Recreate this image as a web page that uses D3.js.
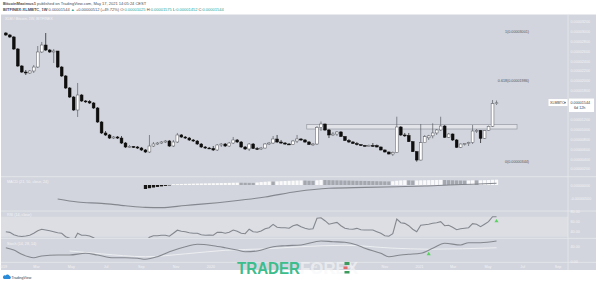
<!DOCTYPE html>
<html>
<head>
<meta charset="utf-8">
<script src="https://cdn.jsdelivr.net/npm/d3@7"></script>
<style>
  html, body { margin: 0; padding: 0; background: #fff; }
  svg { display: block; font-family: "Liberation Sans", Arial, sans-serif; }
</style>
</head>
<body>
<svg id="chart" width="600" height="284"></svg>
<script>
// XLM/BTC weekly, Bitfinex. Prices in satoshi (1e-8 BTC)
const firstWeek = "2019-01-07";
const lastWeek = "2021-05-17";

const opens = [2969,2929,2888,2643,2296,2173,2153,2194,2275,2582, 2724,2622,2582,2602,2275,2092,1847,1663,1398,1704,
  1582,1572,1541,1439,1153,929,888,826,847,826, 724,643,653,643,622,582,541,663,704,724,
  745,765,663,745,888,847,826,786,765,704, 643,622,612,582,684,704,663,724,786,745,
  643,602,704,612,602,622,704,724,806,745, 724,704,694,765,806,786,745,694,704,1041,
  1112,990,888,908,949,857,776,745,714,690, 674,668,674,672,643,582,541,500,530,1051,
  888,878,751,547,377,730,830,870,929,990, 1071,841,908,786,637,704,714,735,969,980,
  820,980,1065,1530];
const highs = [2990,2949,2908,2663,2316,2214,2214,2316,2704,2786, 2969,2643,2643,2602,2296,2112,1867,1684,1949,1725,
  1602,1602,1561,1459,1173,969,908,867,867,867, 745,684,663,663,643,602,888,745,745,765,
  786,786,786,929,908,867,847,806,786,724, 663,643,663,704,724,724,745,847,806,765,
  663,724,724,643,643,724,745,867,888,786, 745,724,786,888,826,806,765,724,1071,1163,
  1122,1010,949,969,969,867,806,765,745,704, 684,694,724,694,653,592,551,551,1261,1071,
  929,929,765,561,1112,888,890,1126,1010,1261, 1092,929,920,806,714,724,751,1092,1010,990,
  990,1081,1602,1592];
const lows = [2908,2867,2622,2275,2153,2112,2133,2153,2255,2561, 2602,2561,2357,2255,2071,1826,1643,1378,1255,1561,
  1541,1520,1418,1133,908,867,806,806,806,704, 622,622,622,602,561,520,520,643,684,704,
  724,643,643,724,826,806,765,745,684,622, 602,602,561,561,643,643,643,704,724,622,
  582,561,602,582,582,612,684,704,724,704, 684,684,684,724,765,724,684,663,684,969,
  969,826,867,867,847,765,724,704,674,663, 653,653,643,633,571,530,490,459,520,867,
  847,745,541,344,367,724,786,820,888,969, 826,826,765,622,622,673,663,704,929,724,
  806,969,1051,1500];
const closes = [2929,2888,2643,2296,2173,2153,2194,2275,2582,2724, 2622,2582,2602,2275,2092,1847,1663,1398,1704,1582,
  1572,1541,1439,1153,929,888,826,847,826,724, 643,653,643,622,582,541,663,704,724,745,
  765,663,745,888,847,826,786,765,704,643, 622,612,582,684,704,663,724,786,745,643,
  602,704,612,602,622,704,724,806,745,724, 704,694,765,806,786,745,694,704,1041,1112,
  990,888,908,949,857,776,745,714,690,674, 668,674,672,643,582,541,500,530,1051,888,
  878,751,547,377,730,853,870,929,990,1071, 841,908,786,637,704,714,735,969,980,820,
  980,1065,1530,1544];

// price axis ticks and fib levels (satoshi)
const priceTicks = d3.range(200, 3201, 200);
const fibLevels = [["1", 3001], ["0.618", 1986], ["0", 344]];
const zoneDates = ["2020-06-18", "2021-06-22"];
const zonePrices = [1102, 1010];

// MACD (21, 50, close, 24): line read at some weeks, histogram from week 35
const macdLine = [[13,-526],[18,-640],[24,-690],[30,-780],[35,-840],[39,-850],[45,-770],[49,-720],
  [57,-600],[65,-450],[73,-245],[81,-125],[90,-90],[98,-64],[105,-40],[111,0],[117,30],[123,64]];
const histStart = 35;
const macdHist = [-150,-120,-95,-72,-52,-34,-16,
  30,35,39,43,47,51,55,58,61,64,67,70,73,76,80,84,88,
  85,82,80,78, 95,110,122,132, 128, 136,144,150,156,162,168,172, 166,160,156, 175,190,
  186,182,178,175,172,168,165,162,158,155,152,149,146,143,140,137,134,
  140,160,172,180, 174,166, 170,175,179,183,186,189,192, 187,182,177,172,168,164,
  170,176, 172, 178,183,188,195,200];

// RSI (14), one per week
const rsi = [40,38.7,34,31.4,30.5,31.4,33,36.8,42,44.8, 43.4,42,40,38,36.8,30,27,22,37,33,
  32.8,31.4,28,22,16,15,14,16,16,14, 13,15,16,16,14,20,29,32,32,33,
  33,31,37,43,41,40,38,37,36.8,34, 33,33.4,33,38.7,39,37,39,43.4,41,37,
  36,45,40,39,41.4,46,48,54.7,49,48, 48,47,52,54,50,47,45,46,67,68,
  62,55,57,58.7,52,47,45.3,45,46.7,44, 43.4,43.5,43.4,40,36.8,32,31,36,65.4,58,
  56.7,52,45,40,53,54,55,57,58,60, 52,53,49,44,46,47,48,56,55,50,
  55,60,70,70];

// Stoch (14, 28, 14): K and D read at some weeks
const stochK = [[0,37.2],[2,30.8],[4,18.7],[7,9.2],[9,14],[13,16.8],[16,16.8],[20,21.5],[23,16.8],[27,9.2],
  [30,9.2],[33,7.6],[35,4.8],[38,12],[41,26],[45,40],[48,46.7],[52,42.8],[55,37.2],[58,30.8],
  [60,26],[63,28],[67,40],[70,42.8],[74,44.8],[79,56],[82,54],[85,52.3],[88,44.8],[90,35.5],
  [94,21.5],[96,12],[99,16.8],[101,18.7],[104,21.5],[107,35.5],[110,49.5],[114,44.8],[116,51.2],
  [119,51.2],[123,56]];
const stochD = [[16,28],[24,20],[35,12],[45,20],[55,30],[65,34],[74,40],[85,44],[97,36],[106,33],[123,37]];
const rsiMarks = [[123, 61]];
const stochMarks = [[106, 19.5]];

// x axis ticks (Mar and May 2020 sit under the watermark)
const tickDates = ["2019-01-01","2019-03-01","2019-05-01","2019-07-01","2019-09-01","2019-11-01",
  "2020-01-01","2020-07-01","2020-09-01","2020-11-01",
  "2021-01-01","2021-03-01","2021-05-01","2021-07-01","2021-09-01"];

const parse = d3.timeParse("%Y-%m-%d");
const weeks = d3.timeMonday.range(parse(firstWeek), d3.timeDay.offset(parse(lastWeek), 1));
const candles = weeks.map((d, i) => ({date: d, o: opens[i], h: highs[i], l: lows[i], c: closes[i]}));

const svg = d3.select("#chart");
const bg = "#d2d5dd";
const axisText = "#f3f4f7";
const lineCol = "#84878e";
const plotRight = 568;

const x = d3.scaleTime()
    .domain([parse("2019-01-01"), parse("2021-09-01")])
    .range([2.4, 557.5]);
const y = d3.scaleLinear().domain([3200, 200]).range([21.7, 168.7]);
const yMacd = d3.scaleLinear().domain([0, -500]).range([185, 198.3]);
const yRsi = d3.scaleLinear().domain([80, 40]).range([211.7, 231.7]);
const yStoch = d3.scaleLinear().domain([40, 0]).range([246.7, 261]);

// background
svg.append("rect").attr("width", 600).attr("height", 284).attr("fill", "#fff");
svg.append("rect").attr("x", 1).attr("y", 14.5).attr("width", 595).attr("height", 255.5).attr("fill", bg);

// clip paths per pane
const defs = svg.append("defs");
const panes = {main: [14.5, 176.5], macd: [177, 210.5], rsi: [211.5, 238], stoch: [238.5, 262]};
Object.entries(panes).forEach(([k, [t, b]]) => {
    defs.append("clipPath").attr("id", "clip-" + k)
      .append("rect").attr("x", 1).attr("y", t).attr("width", plotRight - 1).attr("height", b - t);
});

// RSI band
svg.append("rect")
    .attr("x", 1).attr("y", yRsi(70))
    .attr("width", plotRight - 1).attr("height", yRsi(30) - yRsi(70))
    .attr("fill", "#dcdee4");

// separators
[176.7, 211, 238.3, 262.3].forEach(v => {
    svg.append("line").attr("x1", 1).attr("x2", 596).attr("y1", v).attr("y2", v)
      .attr("stroke", "#e6e8ec").attr("stroke-width", 0.8);
});
svg.append("line").attr("x1", plotRight).attr("x2", plotRight).attr("y1", 14.5).attr("y2", 270)
    .attr("stroke", "#e6e8ec").attr("stroke-width", 0.8);

// header
const header = svg.append("g").attr("font-size", 4).attr("fill", "#4a4d55");
const h1 = header.append("text").attr("x", 3).attr("y", 4.5);
h1.append("tspan").attr("font-weight", "bold").text("BitcoinMaximus1");
h1.append("tspan").text(" published on TradingView.com, May 17, 2021 14:05:24 CEST");
const h2 = header.append("text").attr("x", 3).attr("y", 10.5);
h2.append("tspan").attr("font-weight", "bold").text("BITFINEX:XLMBTC, 1W ");
h2.append("tspan").text(" 0.00001544 ");
h2.append("tspan").attr("fill", "#26a69a").text("▲");
h2.append("tspan").text(" +0.00000512 (+49.72%) ");
[["O:", "0.00001025"], ["H:", "0.00001575"], ["L:", "0.00001452"], ["C:", "0.00001544"]].forEach(([k, v]) => {
    h2.append("tspan").text(" " + k);
    h2.append("tspan").attr("fill", "#26a69a").text(v);
});

// pane titles
const titles = [["XLM / Bitcoin, 1W, BITFINEX", 5, 19.8], ["MACD (21, 50, close, 24)", 7, 182.8],
  ["RSI (14, close)", 7, 216.3], ["Stoch (14, 28, 14)", 7, 244.5]];
svg.selectAll(".title").data(titles).enter().append("text")
    .attr("x", d => d[1]).attr("y", d => d[2])
    .attr("font-size", 3.7).attr("fill", axisText)
    .text(d => d[0]);

// resistance zone
const zone = svg.append("g").attr("clip-path", "url(#clip-main)");
zone.append("rect")
    .attr("x", x(parse(zoneDates[0])))
    .attr("y", y(zonePrices[0]))
    .attr("width", x(parse(zoneDates[1])) - x(parse(zoneDates[0])))
    .attr("height", y(zonePrices[1]) - y(zonePrices[0]))
    .attr("fill", "rgba(236,238,242,0.55)")
    .attr("stroke", "#979aa2").attr("stroke-width", 0.7);

// candles
const cg = svg.append("g").attr("clip-path", "url(#clip-main)");
const bw = 2.8;
cg.selectAll(".wick").data(candles).enter().append("line")
    .attr("x1", d => x(d.date)).attr("x2", d => x(d.date))
    .attr("y1", d => y(d.h)).attr("y2", d => y(d.l))
    .attr("stroke", d => d.c >= d.o ? "#5c5e65" : "#111")
    .attr("stroke-width", 0.7);
cg.selectAll(".body").data(candles).enter().append("rect")
    .attr("x", d => x(d.date) - bw / 2)
    .attr("y", d => y(Math.max(d.o, d.c)))
    .attr("width", bw)
    .attr("height", d => Math.max(0.9, Math.abs(y(d.o) - y(d.c))))
    .attr("fill", d => d.c >= d.o ? "#ffffff" : "#0e0e0e")
    .attr("stroke", d => d.c >= d.o ? "#55575e" : "#0e0e0e")
    .attr("stroke-width", 0.5);

// fib labels
const fibX = x(parse("2021-07-13"));
svg.selectAll(".fib").data(fibLevels).enter().append("text")
    .attr("x", fibX).attr("y", d => y(d[1]) + 1.3)
    .attr("text-anchor", "end").attr("font-size", 3.7).attr("fill", "#50535b")
    .text(d => d[0] + "(" + (d[1] / 1e8).toFixed(8) + ")");

// last price label position (covers the ticks beneath it)
const last = candles[candles.length - 1];
const ly = y(last.c);

// price axis
const fmt = v => (v / 1e8).toFixed(8);
const pAxis = svg.append("g").attr("transform", `translate(${plotRight + 1},0)`)
    .call(d3.axisRight(y).tickValues(priceTicks.filter(v => y(v) < ly - 6 || y(v) > ly + 11))
      .tickSize(0).tickPadding(1.5).tickFormat(fmt));
pAxis.select(".domain").remove();
pAxis.selectAll("text").attr("font-size", 3.7).attr("fill", axisText);

// last price label
svg.append("rect").attr("x", 548.5).attr("y", ly - 3.8).attr("width", 19).attr("height", 7).attr("fill", "#fff");
svg.append("text").attr("x", 550).attr("y", ly + 1.2).attr("font-size", 3.6).attr("fill", "#3a3d44").text("XLMBTC");
svg.append("circle").attr("cx", 565).attr("cy", ly - 0.2).attr("r", 0.8).attr("fill", "#5b5e66");
svg.append("rect").attr("x", 569).attr("y", ly - 4.3).attr("width", 25).attr("height", 13.5).attr("fill", "#fff");
svg.append("text").attr("x", 570.5).attr("y", ly + 1).attr("font-size", 3.7).attr("fill", "#3a3d44").text(fmt(last.c));
svg.append("text").attr("x", 574).attr("y", ly + 6.6).attr("font-size", 3.7).attr("fill", "#3a3d44").text("6d 12h");

// MACD
const mg = svg.append("g").attr("clip-path", "url(#clip-macd)");
const hist = macdHist.map((v, i) => ({date: weeks[histStart + i], v: v, prev: i > 0 ? macdHist[i - 1] : v}));
mg.selectAll(".hist").data(hist).enter().append("rect")
    .attr("x", d => x(d.date) - 1.6)
    .attr("y", d => Math.min(yMacd(d.v), yMacd(0)))
    .attr("width", 3.2)
    .attr("height", d => Math.abs(yMacd(d.v) - yMacd(0)))
    .attr("fill", d => d.v < 0 ? "#151515" : (d.v >= d.prev ? "#fafafa" : "#a4a7ae"));
mg.append("path")
    .datum(macdLine)
    .attr("fill", "none").attr("stroke", lineCol).attr("stroke-width", 1.1)
    .attr("d", d3.line().x(d => x(weeks[d[0]])).y(d => yMacd(d[1])).curve(d3.curveMonotoneX));
const mAxis = svg.append("g").attr("transform", `translate(${plotRight + 1},0)`)
    .call(d3.axisRight(yMacd).tickValues([0, -500]).tickSize(0).tickPadding(1.5).tickFormat(fmt));
mAxis.select(".domain").remove();
mAxis.selectAll("text").attr("font-size", 3.7).attr("fill", axisText);

// RSI
const rg = svg.append("g").attr("clip-path", "url(#clip-rsi)");
rg.append("path")
    .datum(rsi)
    .attr("fill", "none").attr("stroke", lineCol).attr("stroke-width", 1.1)
    .attr("d", d3.line().x((d, i) => x(weeks[i])).y(d => yRsi(d)));
rg.selectAll(".rmark").data(rsiMarks).enter().append("path")
    .attr("transform", d => `translate(${x(weeks[d[0]])},${yRsi(d[1])})`)
    .attr("d", d3.symbol(d3.symbolTriangle, 7))
    .attr("fill", "#58d35b");
const rAxis = svg.append("g").attr("transform", `translate(${plotRight + 1},0)`)
    .call(d3.axisRight(yRsi).tickValues([80, 60, 40]).tickSize(0).tickPadding(1.5).tickFormat(d3.format(".2f")));
rAxis.select(".domain").remove();
rAxis.selectAll("text").attr("font-size", 3.7).attr("fill", axisText);

// Stoch
const sg = svg.append("g").attr("clip-path", "url(#clip-stoch)");
const sLine = d3.line().x(d => x(weeks[d[0]])).y(d => yStoch(d[1])).curve(d3.curveMonotoneX);
sg.append("path").datum(stochD)
    .attr("fill", "none").attr("stroke", "#eceef1").attr("stroke-width", 1)
    .attr("d", sLine);
sg.append("path").datum(stochK)
    .attr("fill", "none").attr("stroke", lineCol).attr("stroke-width", 1.1)
    .attr("d", sLine);
sg.selectAll(".smark").data(stochMarks).enter().append("path")
    .attr("transform", d => `translate(${x(weeks[d[0]])},${yStoch(d[1])})`)
    .attr("d", d3.symbol(d3.symbolTriangle, 7))
    .attr("fill", "#58d35b");
const sAxis = svg.append("g").attr("transform", `translate(${plotRight + 1},0)`)
    .call(d3.axisRight(yStoch).tickValues([40, 0]).tickSize(0).tickPadding(1.5).tickFormat(d3.format(".2f")));
sAxis.select(".domain").remove();
sAxis.selectAll("text").attr("font-size", 3.7).attr("fill", axisText);

// time axis
const monthFmt = d3.timeFormat("%b");
const xAxis = svg.append("g").attr("transform", "translate(0,263)")
    .call(d3.axisBottom(x).tickValues(tickDates.map(parse)).tickSize(0).tickPadding(2)
      .tickFormat(d => d.getMonth() === 0 ? d.getFullYear() : monthFmt(d)));
xAxis.select(".domain").remove();
xAxis.selectAll("text").attr("font-size", 3.7).attr("fill", axisText);

// watermark
svg.append("text").attr("x", 237).attr("y", 273.5)
    .attr("font-size", 17).attr("font-weight", "bold").attr("fill", "#3dbd8c")
    .attr("textLength", 63).attr("lengthAdjust", "spacingAndGlyphs")
    .text("TRADER");
svg.append("text").attr("x", 300).attr("y", 273.5)
    .attr("font-size", 17).attr("font-weight", "bold").attr("fill", "#f6f7f9").attr("opacity", 0.6)
    .attr("textLength", 58).attr("lengthAdjust", "spacingAndGlyphs")
    .text("FOREX");
const icon = svg.append("g");
icon.append("rect").attr("x", 344.5).attr("y", 262).attr("width", 5).attr("height", 3).attr("fill", "#3c9a5d");
icon.append("rect").attr("x", 343.5).attr("y", 266.5).attr("width", 4).attr("height", 2.6).attr("fill", "#e46a6a");
icon.append("rect").attr("x", 344.5).attr("y", 271).attr("width", 5).attr("height", 2.5).attr("fill", "#3c9a5d");

// TradingView footer
svg.append("path")
    .attr("d", "M4,279 L10,279 A1.6,1.6 0 0 0 9.6,276 A2.2,2.2 0 0 0 5.6,275.6 A1.8,1.8 0 0 0 4,279 Z")
    .attr("fill", "#2a8bd8");
svg.append("text").attr("x", 11.5).attr("y", 279).attr("font-size", 3.6).attr("fill", "#3a3d44").text("TradingView");
</script>
</body>
</html>
